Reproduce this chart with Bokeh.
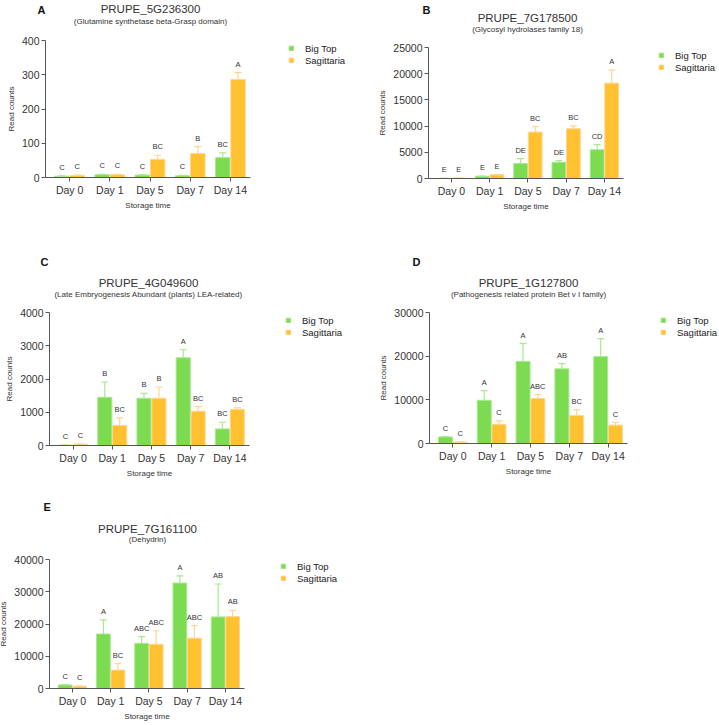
from bokeh.plotting import figure
from bokeh.models import Range1d, FixedTicker, Label, Legend, LegendItem, ColumnDataSource, BasicTickFormatter
from bokeh.layouts import column, row
from bokeh.transform import dodge
from bokeh.embed import file_html
from bokeh.resources import INLINE
from bokeh.core.properties import value

days = ["Day 0", "Day 1", "Day 5", "Day 7", "Day 14"]
series_names = ["Big Top", "Sagittaria"]

# Panel A
a_big = [4, 8, 7, 5, 58]
a_big_err = [1, 1, 1, 1, 14]
a_sag = [6, 8, 53, 70, 286]
a_sag_err = [1, 1, 12, 20, 20]
a_big_let = ["C", "C", "C", "C", "BC"]
a_sag_let = ["C", "C", "BC", "B", "A"]

# Panel B
b_big = [20, 450, 2850, 3100, 5500]
b_big_err = [10, 20, 950, 300, 950]
b_sag = [80, 700, 8860, 9500, 18200]
b_sag_err = [10, 30, 1040, 550, 2500]
b_big_let = ["E", "E", "DE", "DE", "CD"]
b_sag_let = ["E", "E", "BC", "BC", "A"]

# Panel C
c_big = [10, 1450, 1420, 2640, 500]
c_big_err = [2, 460, 150, 240, 200]
c_sag = [40, 600, 1420, 1030, 1080]
c_sag_err = [5, 230, 340, 140, 50]
c_big_let = ["C", "B", "B", "A", "BC"]
c_sag_let = ["C", "BC", "B", "BC", "BC"]

# Panel D
d_big = [1500, 9900, 18800, 17100, 19900]
d_big_err = [100, 2200, 4100, 1200, 4100]
d_sag = [300, 4400, 10300, 6400, 4200]
d_sag_err = [50, 800, 900, 1300, 600]
d_big_let = ["C", "A", "A", "AB", "A"]
d_sag_let = ["C", "C", "ABC", "BC", "C"]

# Panel E
e_big = [1100, 16900, 14000, 32700, 22200]
e_big_err = [100, 4400, 2100, 2200, 10200]
e_sag = [700, 5700, 13700, 15600, 22300]
e_sag_err = [100, 2000, 4200, 3900, 1900]
e_big_let = ["C", "A", "ABC", "A", "AB"]
e_sag_let = ["C", "BC", "ABC", "ABC", "AB"]

FONT = "Liberation Sans"
GREEN = "#7DDB52"
GREEN_L = "#A8E98F"
ORANGE = "#FFC12F"
ORANGE_L = "#FFD691"
TXT = "#333333"

X0, X1 = -0.6, 4.5


def panel(letter, gene, desc, big, big_err, sag, sag_err, big_let, sag_let, ymax, ystep, g):
    # g: layout geometry in page pixels; the frame covers the whole figure
    fx, fy, W, H = g["fig"]
    ax_x, ax_y, y_top, axis_len = g["axes"]
    s = axis_len / (X1 - X0)                 # px per category unit
    yk = ymax / (ax_y - y_top)               # data units per px
    x_start = X0 - (ax_x - fx) / s
    x_end = x_start + W / s
    y_start = -(fy + H - ax_y) * yk
    y_end = (ax_y - fy) * yk

    def dx(px):
        return X0 + (px - ax_x) / s

    def dy(py):
        return (ax_y - py) * yk

    p = figure(width=W, height=H, output_backend="svg", toolbar_location=None,
               x_range=Range1d(x_start, x_end), y_range=Range1d(y_start, y_end),
               min_border_left=0, min_border_right=0, min_border_top=0, min_border_bottom=0)
    p.outline_line_color = None
    p.grid.visible = False

    x = list(range(len(days)))
    src = ColumnDataSource(dict(
        x=x, big=big, sag=sag,
        big_top=[v + e for v, e in zip(big, big_err)],
        sag_top=[v + e for v, e in zip(sag, sag_err)],
        big_let=big_let, sag_let=sag_let))

    off = 0.19
    w = 0.36
    cap = 0.09
    rb = p.vbar(x=dodge("x", -off), top="big", width=w, source=src,
                fill_color=GREEN, line_color=GREEN_L, line_width=1)
    rs = p.vbar(x=dodge("x", off), top="sag", width=w, source=src,
                fill_color=ORANGE, line_color=ORANGE_L, line_width=1)
    for o, col, topf, basef in [(-off, GREEN_L, "big_top", "big"), (off, ORANGE_L, "sag_top", "sag")]:
        p.segment(x0=dodge("x", o), y0=basef, x1=dodge("x", o), y1=topf,
                  source=src, line_color=col, line_width=1.2)
        p.segment(x0=dodge("x", o - cap), y0=topf, x1=dodge("x", o + cap), y1=topf,
                  source=src, line_color=col, line_width=1.2)
    for o, lf, tf in [(-off, "big_let", "big_top"), (off, "sag_let", "sag_top")]:
        p.text(x=dodge("x", o), y=tf, text=lf, source=src, text_align="center",
               text_baseline="bottom", y_offset=-4, text_font=value(FONT),
               text_font_size="7.5px", text_color=TXT)

    p.xaxis.ticker = FixedTicker(ticks=x)
    p.xaxis.major_label_overrides = {i: d for i, d in enumerate(days)}
    p.xaxis.bounds = (X0, X1)
    p.xaxis.fixed_location = 0
    p.yaxis.ticker = FixedTicker(ticks=list(range(0, ymax + 1, ystep)))
    p.yaxis.formatter = BasicTickFormatter(use_scientific=False)
    p.yaxis.bounds = (0, ymax)
    p.yaxis.fixed_location = X0
    for ax in (p.xaxis[0], p.yaxis[0]):
        ax.axis_line_color = "#555555"
        ax.major_tick_line_color = "#555555"
        ax.major_tick_in = 0
        ax.major_tick_out = 4
        ax.minor_tick_line_color = None
        ax.major_label_text_font = FONT
        ax.major_label_text_font_size = "10.5px"
        ax.major_label_text_color = TXT
        ax.major_label_standoff = 2
        ax.axis_label_text_font = FONT
        ax.axis_label_text_font_size = "8px"
        ax.axis_label_text_font_style = "normal"
        ax.axis_label_text_color = TXT
    p.xaxis.axis_label_standoff = 2
    p.yaxis.axis_label_standoff = 3
    p.xaxis.axis_label = "Storage time"
    p.yaxis.axis_label = "Read counts"

    lx, ly = g["letter"]
    p.add_layout(Label(x=dx(lx), y=dy(ly), text=letter, text_font=FONT,
                       text_font_size="11px", text_font_style="bold",
                       text_color="#111111", text_align="left", text_baseline="middle"))
    tx, ty = g["title"]
    p.add_layout(Label(x=dx(tx), y=dy(ty), text=gene, text_font=FONT, text_font_size="11.5px",
                       text_color=TXT, text_align="center", text_baseline="middle"))
    sx, sy = g["sub"]
    p.add_layout(Label(x=dx(sx), y=dy(sy), text=desc, text_font=FONT, text_font_size="8px",
                       text_color=TXT, text_align="center", text_baseline="middle"))

    gx, gy = g["legend"]   # glyph left, first item centre (page px)
    leg = Legend(items=[LegendItem(label=series_names[0], renderers=[rb]),
                        LegendItem(label=series_names[1], renderers=[rs])],
                 location=(gx - fx, fy + H - (gy - 6 + 24)), orientation="vertical",
                 glyph_width=6, glyph_height=6, label_height=12, label_standoff=11,
                 spacing=0, padding=0, margin=0, border_line_color=None,
                 background_fill_alpha=0, label_text_font=FONT,
                 label_text_font_size="9.5px", label_text_color="#222222")
    p.add_layout(leg)
    return p


# geometry (page pixels): fig=(x, y, w, h), axes=(y-axis x, x-axis y, top tick y, x-axis length)
gA = dict(fig=(0, 0, 360, 225), axes=(45, 177, 40, 205),
          letter=(37, 9), title=(150, 8), sub=(150, 20.5), legend=(288, 48))
gB = dict(fig=(360, 0, 358, 225), axes=(428, 178, 47, 195),
          letter=(422, 9), title=(527, 17), sub=(527, 29), legend=(658, 55))
gC = dict(fig=(0, 225, 360, 255), axes=(49, 445, 312, 200),
          letter=(40, 261), title=(148, 282.5), sub=(148, 294), legend=(285, 320))
gD = dict(fig=(360, 225, 358, 255), axes=(429, 443, 312, 198),
          letter=(412, 261), title=(528, 282.5), sub=(528, 294), legend=(660, 320))
gE = dict(fig=(0, 480, 360, 243), axes=(49, 688, 559, 195),
          letter=(43, 506), title=(147, 528), sub=(147, 539), legend=(280, 566))

pA = panel("A", "PRUPE_5G236300", "(Glutamine synthetase beta-Grasp domain)",
           a_big, a_big_err, a_sag, a_sag_err, a_big_let, a_sag_let, 400, 100, gA)
pB = panel("B", "PRUPE_7G178500", "(Glycosyl hydrolases family 18)",
           b_big, b_big_err, b_sag, b_sag_err, b_big_let, b_sag_let, 25000, 5000, gB)
pC = panel("C", "PRUPE_4G049600", "(Late Embryogenesis Abundant (plants) LEA-related)",
           c_big, c_big_err, c_sag, c_sag_err, c_big_let, c_sag_let, 4000, 1000, gC)
pD = panel("D", "PRUPE_1G127800", "(Pathogenesis related protein Bet v I family)",
           d_big, d_big_err, d_sag, d_sag_err, d_big_let, d_sag_let, 30000, 10000, gD)
pE = panel("E", "PRUPE_7G161100", "(Dehydrin)",
           e_big, e_big_err, e_sag, e_sag_err, e_big_let, e_sag_let, 40000, 10000, gE)

layout = column(row(pA, pB), row(pC, pD), row(pE))
open("out.html", "w").write(file_html(layout, INLINE))
